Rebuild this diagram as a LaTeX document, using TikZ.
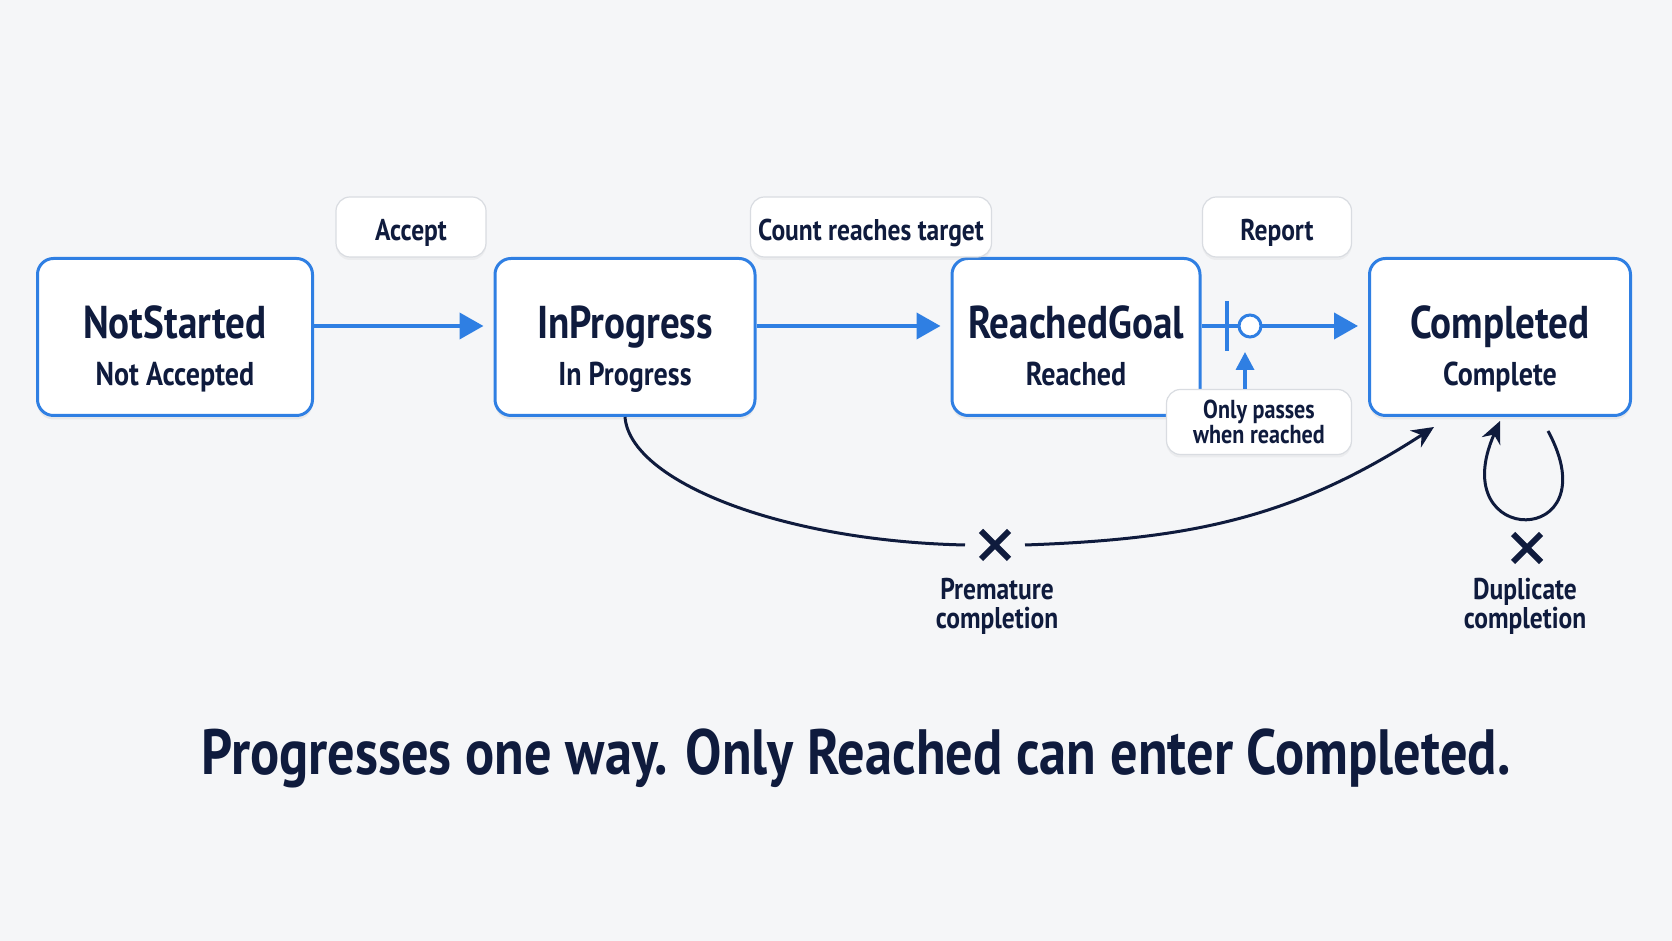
\documentclass[tikz,border=0pt]{standalone}
\usepackage{fontspec}
\setmainfont{PT Sans}[FakeStretch=0.85]
\usetikzlibrary{positioning,arrows.meta,shapes.misc,shadows}
\definecolor{bgc}{HTML}{F5F6F8}
\definecolor{flowblue}{HTML}{2F7FE3}
\definecolor{inkblue}{HTML}{0F1B3D}
\definecolor{tagline}{HTML}{D9DCE1}

\begin{document}
\begin{tikzpicture}
        [x=0.5pt,y=0.5pt,every node/.style={text=inkblue,font=\bfseries},
         state/.style={draw=flowblue,line width=1.5pt,rounded corners=8pt,fill=white,
           minimum height=78.5pt,drop shadow={opacity=0.12,shadow xshift=0pt,shadow yshift=-2pt}},
         ttl/.style={anchor=base,font=\bfseries\fontsize{23}{28}\selectfont},
         sub/.style={anchor=base,font=\bfseries\fontsize{16.5}{20}\selectfont},
         tag/.style={draw=tagline,line width=0.6pt,rounded corners=7pt,fill=white,
           minimum height=30pt,text height=13.8pt,text depth=0pt,inner ysep=0pt,
           font=\bfseries\fontsize{15}{18}\selectfont,
           drop shadow={opacity=0.08,shadow xshift=0pt,shadow yshift=-1.5pt}},
         flow/.style={draw=flowblue,line width=2pt,shorten >=5pt,-{Triangle[length=12pt,width=13pt]}},
         fail/.style={draw=inkblue,line width=1.5pt,-{Stealth[length=11pt,width=10pt]}},
         nope/.style={draw=inkblue,cross out,line width=3pt,minimum size=14pt,inner sep=0pt,outer sep=0pt},
         note/.style={align=center,font=\bfseries\fontsize{15}{14.4}\selectfont}]
        \fill[bgc] (0,0) rectangle (1672,941);

        \node[state,minimum width=137.5pt] (ns) at (175,604) {};
        \node[state,minimum width=130pt] (ip) at (625,604) {};
        \node[state,minimum width=124pt] (rg) at (1076,604) {};
        \node[state,minimum width=130.5pt] (cp) at (1500,604) {};

        \node[ttl] (nsT) at ([yshift=-1pt]ns.center) {NotStarted};
        \node[sub] (nsS) at ([yshift=-24.5pt]ns.center) {Not Accepted};
        \node[ttl] (ipT) at ([yshift=-1pt]ip.center) {InProgress};
        \node[sub] (ipS) at ([yshift=-24.5pt]ip.center) {In Progress};
        \node[ttl] (rgT) at ([yshift=-1pt]rg.center) {ReachedGoal};
        \node[sub] (rgS) at ([yshift=-24.5pt]rg.center) {Reached};
        \node[ttl] (cpT) at ([yshift=-1pt]cp.center) {Completed};
        \node[sub] (cpS) at ([yshift=-24.5pt]cp.center) {Complete};

        \node[tag,minimum width=75pt] (acc) at (411,714) {Accept};
        \node[tag,minimum width=120.5pt] (cnt) at (871,714) {Count reaches target};
        \node[tag,minimum width=74.5pt] (rep) at (1277,714) {Report};
        \node[tag,minimum width=92.5pt,minimum height=32.5pt,text height=,text depth=,align=center,
              font=\bfseries\fontsize{13}{12.3}\selectfont] (only) at (1259,519) {Only passes\\when reached};

        \foreach \from/\to in {ns/ip, ip/rg, rg/cp}
            \draw[flow] ([yshift=5.5pt]\from.east) -- ([yshift=5.5pt]\to.west);

        \coordinate (bar) at (1227,615);
        \draw[flowblue,line width=1.75pt] ([yshift=12.5pt]bar) -- ([yshift=-12.5pt]bar);
        \node[circle,draw=flowblue,line width=1.5pt,fill=white,minimum size=11pt,inner sep=0pt] (gate) at (1250,615) {};
        \coordinate (gin) at (1245,589);
        \draw[flow,line width=1.75pt,shorten >=0pt,-{Triangle[length=9pt,width=9pt]}] ([xshift=-7pt]only.north) -- (gin);

        \node[nope] (xp) at (995,396) {};
        \node[note] (pm) at (997,335) {Premature\\completion};
        \coordinate (cin) at (1434,514);
        \draw[fail,-] (ip.south) .. controls (630,460) and (780,400) .. ([xshift=-8pt]xp.west);
        \draw[fail] ([xshift=8pt]xp.east) to[out=2,in=213] (cin);

        \node[nope] (xd) at (1527,393) {};
        \node[note] (dup) at (1525,335) {Duplicate\\completion};
        \draw[fail] ([xshift=24pt,yshift=-7pt]cp.south) .. controls (1612,392) and (1443,392) .. ([yshift=-2pt]cp.south);

        \node[font=\bfseries\fontsize{32}{38}\selectfont] (cap) at (856,183) {Progresses one way. Only Reached can enter Completed.};
      \end{tikzpicture}
\end{document}
